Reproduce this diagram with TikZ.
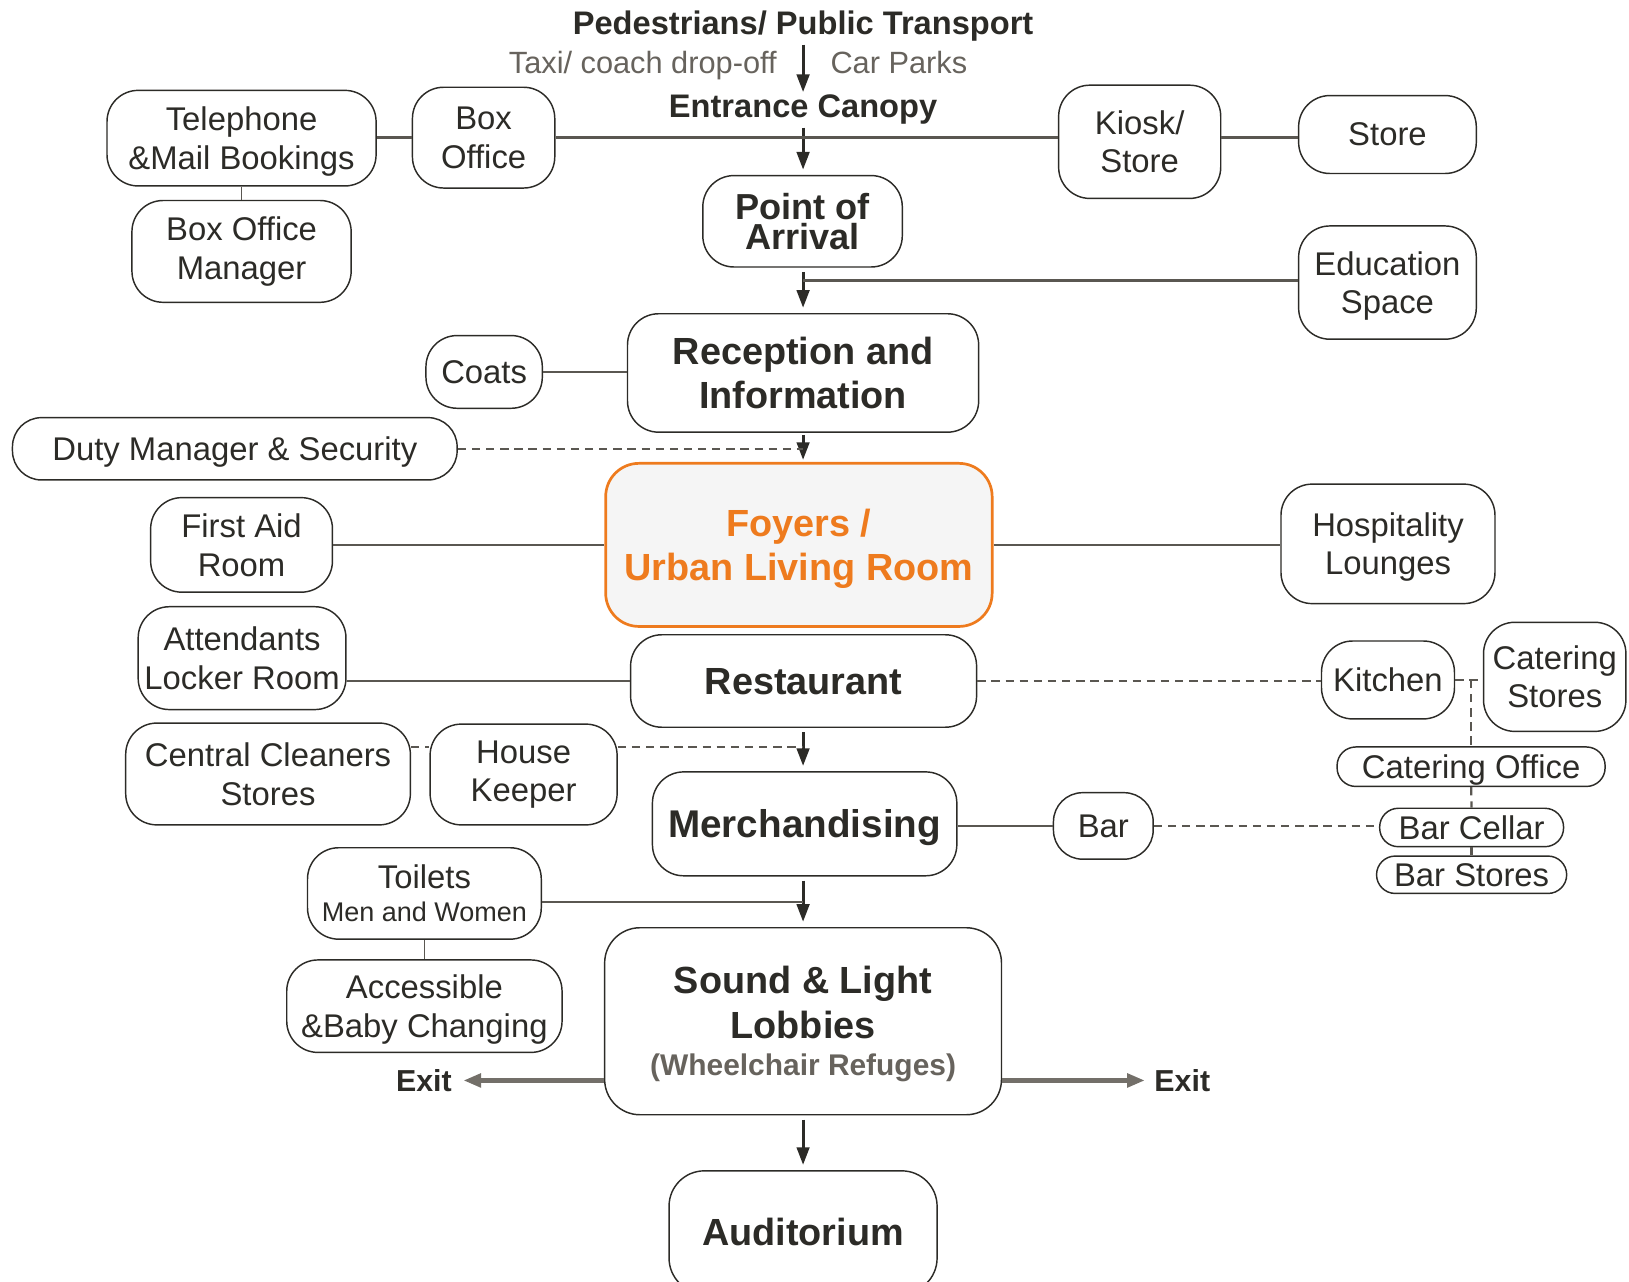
\documentclass[tikz,border=0pt]{standalone}
\usepackage{fontspec}
\setmainfont{Liberation Sans}
\usetikzlibrary{arrows.meta}
\definecolor{ink}{HTML}{2C2B27}
\definecolor{linec}{HTML}{5A5751}
\definecolor{grayt}{HTML}{67635D}
\definecolor{exitc}{HTML}{736F69}
\definecolor{orng}{HTML}{EE7B1E}
\definecolor{foyfill}{HTML}{F5F5F5}
\newcommand\fnorm{\fontsize{15.8}{18.5}\selectfont}
\newcommand\fsmall{\fontsize{13}{15}\selectfont}
\newcommand\fgrayt{\fontsize{14.8}{17}\selectfont}
\newcommand\ftitle{\bfseries\fontsize{15.7}{18}\selectfont}
\newcommand\fbig{\bfseries\fontsize{18.2}{21.5}\selectfont}
\newcommand\fmerch{\bfseries\fontsize{18.6}{22}\selectfont}
\newcommand\fpoa{\bfseries\fontsize{17.4}{14.8}\selectfont}
\newcommand\fwheel{\bfseries\fontsize{14.4}{17}\selectfont}
\newcommand\fexit{\bfseries\fontsize{14.6}{17}\selectfont}
\begin{document}
\begin{tikzpicture}[x=0.5pt,y=-0.5pt,
  box/.style={draw=ink, line width=0.7pt, rounded corners=15pt, fill=white,
    align=center, text=ink, inner sep=0pt, font=\fnorm, text depth=0pt},
  sz/.style 2 args={minimum width=#1, minimum height=#2},
  pill/.style={box, rounded corners=9pt},
  foyer/.style={box, draw=orng, line width=1.3pt, fill=foyfill, text=orng, font=\fbig, rounded corners=16pt},
  txt/.style={inner sep=0pt, text=ink},
  conn/.style={draw=linec, line width=1.2pt},
  dashc/.style={draw=linec, line width=1.1pt, dash pattern=on 4pt off 2.8pt},
  arr/.style={draw=ink, line width=1.5pt, -{Triangle[length=8.5pt,width=6pt]}, shorten <=2pt, shorten >=2.5pt},
  exitarr/.style={draw=exitc, line width=2pt, -{Triangle[length=8.5pt,width=6.5pt]}}
]
\useasboundingbox (0,0) rectangle (1568,1234);
\coordinate (axis) at (773,0);

% top texts
\node[txt, font=\ftitle, anchor=base] (ped) at (773,33) {Pedestrians/ Public Transport};
\node[txt, font=\fgrayt, text=grayt, anchor=base east] (taxi) at (748,70.5) {Taxi/ coach drop-off};
\node[txt, font=\fgrayt, text=grayt, anchor=base west] (car) at (799,70.5) {Car Parks};
\node[txt, font=\ftitle, anchor=base] (canopy) at (773,113) {Entrance Canopy};

% boxes
\node[box, sz={129.5pt}{46pt}] (tel) at (232.5,133) {Telephone\\\&Mail Bookings};
\node[box, sz={105.5pt}{49pt}, text depth={}] (bom) at (232.5,242) {Box Office\\Manager};
\node[box, sz={68.5pt}{48.5pt}] (boxo) at (465.5,132.5) {Box\\Office};
\node[box, sz={78pt}{54.5pt}] (kiosk) at (1097,136.5) {Kiosk/\\Store};
\node[box, sz={85.5pt}{37.5pt}] (store) at (1335.5,129.5) {Store};
\node[box, sz={96pt}{44pt}, font=\fpoa] (poa) at (772.5,213) {Point of\\Arrival};
\node[box, sz={85.5pt}{54.5pt}] (edu) at (1335.5,272) {Education\\Space};
\node[box, sz={169pt}{57pt}, font=\fbig] (rec) at (773,359) {Reception and\\Information};
\node[box, sz={56pt}{35pt}] (coats) at (466,358) {Coats};
\node[box, sz={214pt}{30pt}, rounded corners=14pt] (duty) at (226,432) {Duty Manager \& Security};
\node[foyer, sz={186pt}{78.5pt}] (foy) at (769,524.5) {Foyers /\\Urban Living Room};
\node[box, sz={87.5pt}{45.5pt}] (first) at (232.5,524.5) {First Aid\\Room};
\node[box, sz={103pt}{57.5pt}] (hosp) at (1336,523.5) {Hospitality\\Lounges};
\node[box, sz={166.5pt}{44.5pt}, font=\fbig] (rest) at (773.5,655.5) {Restaurant};
\node[box, sz={100pt}{49.5pt}] (att) at (233,633.5) {Attendants\\Locker Room};
\node[box, sz={64pt}{37.5pt}] (kit) at (1336,654.5) {Kitchen};
\node[box, sz={68.5pt}{52.5pt}] (cs) at (1496.5,651.5) {Catering\\Stores};
\node[pill, sz={129pt}{19pt}] (co) at (1416,738) {Catering Office};
\node[pill, sz={88.5pt}{18.5pt}] (bc) at (1416.5,796.5) {Bar Cellar};
\node[pill, sz={91.5pt}{18pt}] (bs) at (1416.5,842) {Bar Stores};
\node[box, sz={48pt}{32pt}, rounded corners=14pt] (bar) at (1062,795) {Bar};
\node[box, sz={137pt}{49pt}] (ccs) at (258,745) {Central Cleaners\\Stores};
\node[box, sz={90pt}{48.5pt}, text depth={}] (hk) at (504,745.5) {House\\Keeper};
\node[box, sz={146.5pt}{50pt}, font=\fmerch] (merch) at (774.5,793) {Merchandising};
\node[box, sz={112.5pt}{44pt}] (toil) at (408.5,860) {Toilets\\[-2.5pt]{\fsmall Men and Women}};
\node[box, sz={132.5pt}{44.5pt}] (acc) at (408.5,968.5) {Accessible\\\&Baby Changing};
\node[box, sz={191pt}{90pt}, font=\fbig, rounded corners=17pt] (sl) at (773,983)
  {Sound \& Light\\Lobbies\\[-3.5pt]{\fwheel\color{grayt}(Wheelchair Refuges)}};
\node[box, sz={129pt}{59pt}, font=\fbig, rounded corners=17pt] (aud) at (773,1186) {Auditorium};

\node[txt, font=\fexit] (exl) at (408,1040) {Exit};
\node[txt, font=\fexit] (exr) at (1138,1040) {Exit};

% connectors
\draw[arr, shorten <=1.5pt, shorten >=1pt] (axis |- ped.south) -- (axis |- canopy.north);
\draw[arr, shorten <=1.5pt] (axis |- canopy.south) -- (axis |- poa.north);
\draw[conn] (tel.east |- boxo.east) -- (boxo.west);
\draw[conn] (boxo.east) -- (boxo.east -| kiosk.west);
\draw[conn] (kiosk.east |- boxo.east) -- (store.west |- boxo.east);
\draw[conn, line width=0.8pt] (tel) -- (bom);
\draw[arr] (axis |- poa.south) -- (axis |- rec.north);
\coordinate (ej) at (773,270);
\draw[conn] (ej) -- (edu.west |- ej);
\draw[conn] (coats) -- (rec.west |- coats);
\draw[arr, shorten <=1pt, shorten >=1pt] (axis |- rec.south) -- (axis |- foy.north);
\draw[dashc] (duty.east) -- (axis |- duty.east);
\draw[conn] (first.east |- foy.west) -- (foy.west);
\draw[conn] (foy.east) -- (hosp.west |- foy.east);
\draw[conn] (att.east |- rest.west) -- (rest.west);
\draw[dashc] (rest.east) -- (kit.west |- rest.east);
\draw[dashc] (kit.east) -- (kit.east -| cs.west);
\draw[dashc] (kit.east -| co.north) -- (co.north);
\draw[dashc] (co) -- (bc);
\draw[dashc] (bc) -- (bs);
\coordinate (hkj) at (773,719);
\draw[arr] (axis |- rest.south) -- (axis |- merch.north);
\draw[dashc] (hk.east |- hkj) -- (hkj);
\draw[dashc] (ccs.east |- hkj) -- (hk.west |- hkj);
\draw[conn] (merch.east |- bar) -- (bar);
\draw[dashc] (bar.east) -- (bc.west |- bar.east);
\coordinate (tj) at (773,868);
\draw[arr] (axis |- merch.south) -- (axis |- sl.north);
\draw[conn] (toil.east |- tj) -- (tj);
\draw[conn, line width=0.8pt] (toil) -- (acc);
\draw[exitarr, shorten >=5.5pt] (sl.west |- exl) -- (exl.east);
\draw[exitarr, shorten >=4.5pt] (sl.east |- exr) -- (exr.west);
\draw[arr] (axis |- sl.south) -- (axis |- aud.north);
\end{tikzpicture}
\end{document}
